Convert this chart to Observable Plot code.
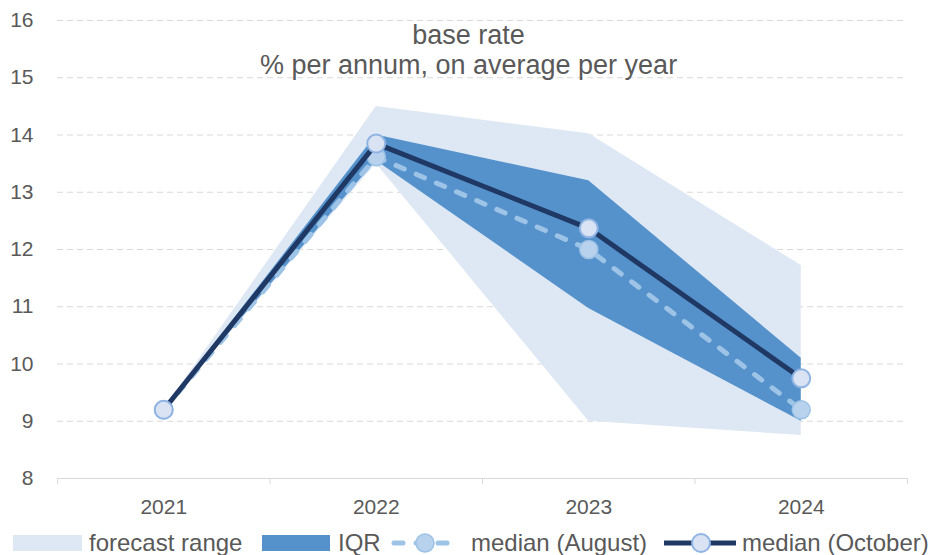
<!DOCTYPE html>
<html>
<head>
<meta charset="utf-8">
<script src="https://cdn.jsdelivr.net/npm/d3@7"></script>
<script src="https://cdn.jsdelivr.net/npm/@observablehq/plot@0.6"></script>
<style>
  body { margin: 0; background: #fff; font-family: "Liberation Sans", Arial, sans-serif; }
  #wrap { width: 935px; }
  #legend { position: relative; width: 935px; height: 35px; color: #595959; font-size: 24px; }
  #legend .it { position: absolute; top: 23px; transform: translateY(-50%); line-height: 1; white-space: nowrap; }
  #legend svg { position: absolute; }
</style>
</head>
<body>
<div id="wrap"><div id="chart"></div><div id="legend"></div></div>
<script>
const years = [2021, 2022, 2023, 2024];
const rangeLow = [9.2, 13.5, 9.0, 8.75];
const rangeHigh = [9.2, 14.5, 14.02, 11.72];
const iqrLow = [9.2, 13.55, 10.97, 9.0];
const iqrHigh = [9.2, 14.0, 13.2, 10.1];
const medianAug = [9.2, 13.62, 12.0, 9.2];
const medianOct = [9.2, 13.85, 12.37, 9.75];
const yTicks = [8, 9, 10, 11, 12, 13, 14, 15, 16];
const gridTicks = [9, 10, 11, 12, 13, 14, 15, 16];
const titleLines = ["base rate", "% per annum, on average per year"];
const legendLabels = ["forecast range", "IQR", "median (August)", "median (October)"];

const C = {
  range: "#dee8f4", iqr: "#5592cb",
  aug: "#9dc3e6", augDot: "#b8d1ec",
  oct: "#1f3864", octDot: "#dae3f3", octDotStroke: "#8fb4e3",
  grid: "#d9d9d9", text: "#595959"
};

const data = years.map((y, i) => ({
  year: y, rl: rangeLow[i], rh: rangeHigh[i], il: iqrLow[i], ih: iqrHigh[i],
  aug: medianAug[i], oct: medianOct[i]
}));
const bounds = [years[0] - 0.5, ...years.map(y => y + 0.5)];

const chart = Plot.plot({
  width: 935, height: 520,
  marginLeft: 57, marginRight: 28, marginTop: 20, marginBottom: 42,
  style: { fontFamily: "'Liberation Sans', Arial, sans-serif", color: C.text, background: "#fff" },
  x: { type: "linear", domain: [bounds[0], bounds[bounds.length - 1]] },
  y: { domain: [8, 16] },
  marks: [
    Plot.gridY(gridTicks, { stroke: C.grid, strokeOpacity: 1, strokeDasharray: "6,4", strokeWidth: 1 }),
    Plot.areaY(data, { x: "year", y1: "rl", y2: "rh", fill: C.range }),
    Plot.areaY(data, { x: "year", y1: "il", y2: "ih", fill: C.iqr }),
    Plot.lineY(data, { x: "year", y: "aug", stroke: C.aug, strokeWidth: 5, strokeDasharray: "9,13", strokeLinecap: "round" }),
    Plot.dot(data, { x: "year", y: "aug", r: 9, fill: C.augDot, stroke: C.aug, strokeWidth: 1.5 }),
    Plot.lineY(data, { x: "year", y: "oct", stroke: C.oct, strokeWidth: 5 }),
    Plot.dot(data, { x: "year", y: "oct", r: 9, fill: C.octDot, stroke: C.octDotStroke, strokeWidth: 2 }),
    Plot.ruleY([8], { stroke: C.grid, strokeWidth: 1 }),
    Plot.axisX(bounds, { tickSize: 6, stroke: C.grid, tickFormat: () => "", label: null }),
    Plot.axisX(years, { tickSize: 0, tickPadding: 21, fontSize: 21, fill: C.text, tickFormat: d => String(d), label: null }),
    Plot.axisY(yTicks, { tickSize: 0, tickPadding: 24, fontSize: 21, fill: C.text, tickFormat: d => String(d), label: null }),
    Plot.text([titleLines.join("\n")], {
      frameAnchor: "top", lineAnchor: "top", dy: 2, dx: -14, lineHeight: 1.11,
      fontSize: 27, fill: C.text, fontFamily: "'Liberation Sans', Arial, sans-serif"
    })
  ]
});
document.getElementById("chart").appendChild(chart);

// Legend
const lg = document.getElementById("legend");
const ns = "http://www.w3.org/2000/svg";
function sw(left, width, draw) {
  const s = document.createElementNS(ns, "svg");
  s.setAttribute("width", width); s.setAttribute("height", 20);
  s.style.left = left + "px"; s.style.top = "13px";
  s.innerHTML = draw;
  lg.appendChild(s);
}
function label(left, txt) {
  const d = document.createElement("div");
  d.className = "it"; d.style.left = left + "px"; d.textContent = txt;
  lg.appendChild(d);
}
sw(13, 69, `<rect x="0" y="2" width="69" height="16" fill="${C.range}"/>`);
label(89, legendLabels[0]);
sw(262, 68, `<rect x="0" y="2" width="68" height="16" fill="${C.iqr}"/>`);
label(338, legendLabels[1]);
sw(391, 68, `<line x1="3" x2="65" y1="10" y2="10" stroke="${C.aug}" stroke-width="5" stroke-dasharray="9,13" stroke-linecap="round"/>
  <circle cx="34" cy="10" r="9" fill="${C.augDot}" stroke="${C.aug}" stroke-width="1.5"/>`);
label(471, legendLabels[2]);
sw(664, 72, `<line x1="0" x2="72" y1="10" y2="10" stroke="${C.oct}" stroke-width="5"/>
  <circle cx="37" cy="10" r="9" fill="${C.octDot}" stroke="${C.octDotStroke}" stroke-width="2"/>`);
label(742, legendLabels[3]);
</script>
</body>
</html>
